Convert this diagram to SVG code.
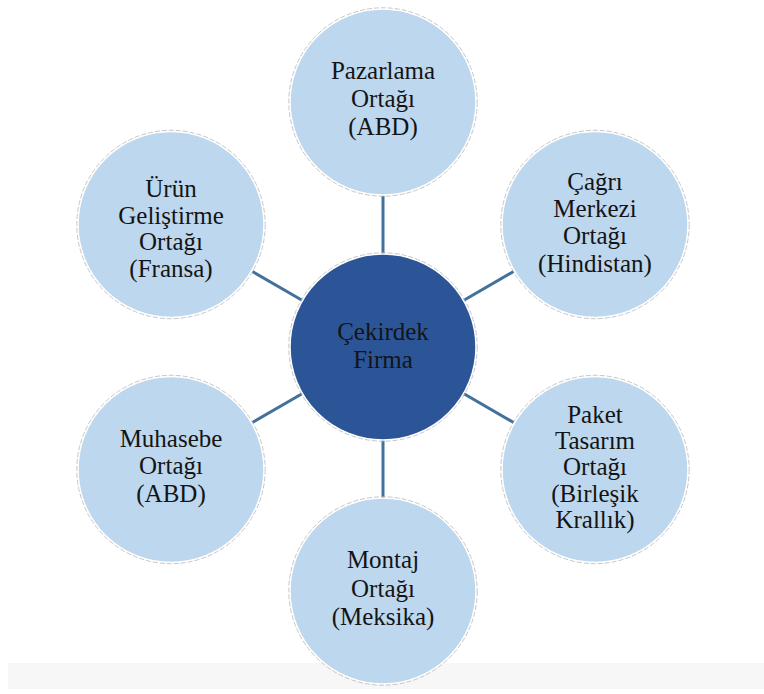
<svg xmlns="http://www.w3.org/2000/svg" width="764" height="694" viewBox="0 0 764 694">
<style>
.sat{fill:#BDD7EE;stroke:#ffffff;stroke-width:1.5}
.rim{fill:none;stroke:#b8b8b8;stroke-width:0.8;stroke-dasharray:5 2}
.core{fill:#2C5597;stroke:#ffffff;stroke-width:1.5}
.t{font-size:25px;fill:#141414;text-anchor:middle}
.c{stroke:#41719C;stroke-width:3;fill:none}
</style>
<rect x="0" y="0" width="764" height="694" fill="#ffffff"/>
<rect x="8" y="663" width="756" height="26" fill="#f7f7f7"/>
<g id="connectors">
<line class="c" x1="383" y1="254" x2="383" y2="196"/>
<line class="c" x1="383" y1="440" x2="383" y2="498"/>
<line class="c" x1="463.5" y1="300.5" x2="513.6" y2="271.5"/>
<line class="c" x1="463.5" y1="393.5" x2="513.6" y2="422.5"/>
<line class="c" x1="302.5" y1="300.5" x2="252.4" y2="271.5"/>
<line class="c" x1="302.5" y1="393.5" x2="252.4" y2="422.5"/>
</g>
<g style="font-family:'Liberation Serif','Times New Roman',serif">
<g id="core">
<circle class="core" cx="383" cy="347" r="93"/>
<circle class="rim" cx="383" cy="347" r="94.2"/>
<text class="t" x="383" y="340">Çekirdek</text>
<text class="t" x="383" y="368">Firma</text>
</g>
<g id="pazarlama">
<circle class="sat" cx="383" cy="102" r="93"/>
<circle class="rim" cx="383" cy="102" r="94.2"/>
<text class="t" x="383" y="79">Pazarlama</text>
<text class="t" x="383" y="107">Ortağı</text>
<text class="t" x="383" y="135">(ABD)</text>
</g>
<g id="cagri">
<circle class="sat" cx="595" cy="224.5" r="93"/>
<circle class="rim" cx="595" cy="224.5" r="94.2"/>
<text class="t" x="595" y="190">Çağrı</text>
<text class="t" x="595" y="217">Merkezi</text>
<text class="t" x="595" y="244">Ortağı</text>
<text class="t" x="595" y="272">(Hindistan)</text>
</g>
<g id="paket">
<circle class="sat" cx="595" cy="469.5" r="93"/>
<circle class="rim" cx="595" cy="469.5" r="94.2"/>
<text class="t" x="595" y="423">Paket</text>
<text class="t" x="595" y="449">Tasarım</text>
<text class="t" x="595" y="475">Ortağı</text>
<text class="t" x="595" y="502">(Birleşik</text>
<text class="t" x="595" y="528">Krallık)</text>
</g>
<g id="montaj">
<circle class="sat" cx="383" cy="591" r="93"/>
<circle class="rim" cx="383" cy="591" r="94.2"/>
<text class="t" x="383" y="568">Montaj</text>
<text class="t" x="383" y="597">Ortağı</text>
<text class="t" x="383" y="625">(Meksika)</text>
</g>
<g id="muhasebe">
<circle class="sat" cx="171" cy="469.5" r="93"/>
<circle class="rim" cx="171" cy="469.5" r="94.2"/>
<text class="t" x="171" y="447">Muhasebe</text>
<text class="t" x="171" y="474">Ortağı</text>
<text class="t" x="171" y="502">(ABD)</text>
</g>
<g id="urun">
<circle class="sat" cx="171" cy="224.5" r="93"/>
<circle class="rim" cx="171" cy="224.5" r="94.2"/>
<text class="t" x="171" y="197">Ürün</text>
<text class="t" x="171" y="224">Geliştirme</text>
<text class="t" x="171" y="250">Ortağı</text>
<text class="t" x="171" y="277">(Fransa)</text>
</g>
</g>
</svg>
